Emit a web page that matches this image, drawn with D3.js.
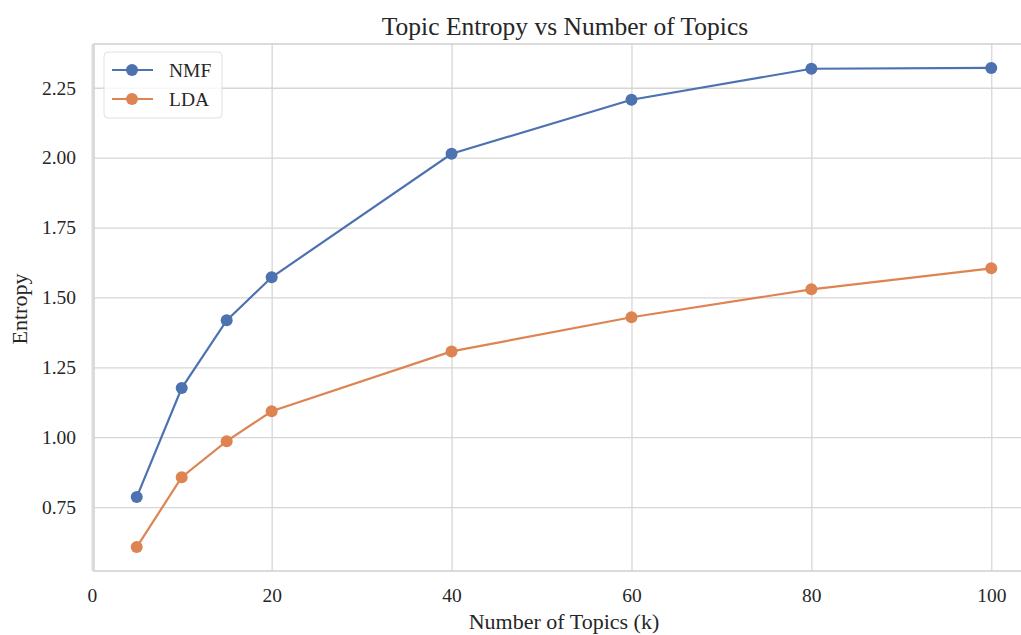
<!DOCTYPE html>
<html>
<head>
<meta charset="utf-8">
<script src="https://cdn.jsdelivr.net/npm/d3@7"></script>
<style>
  body { margin: 0; background: #fff; }
  svg text { font-family: "Liberation Serif", "DejaVu Serif", serif; fill: #262626; }
</style>
</head>
<body>
<svg id="chart" width="1021" height="635"></svg>
<script>
const topics = [5, 10, 15, 20, 40, 60, 80, 100];
const nmfEntropy = [0.786, 1.176, 1.418, 1.572, 2.014, 2.207, 2.318, 2.321];
const ldaEntropy = [0.607, 0.857, 0.986, 1.093, 1.307, 1.429, 1.529, 1.604];
const xTicks = [0, 20, 40, 60, 80, 100];
const yTicks = [0.75, 1.00, 1.25, 1.50, 1.75, 2.00, 2.25];

const series = [
  { name: 'NMF', values: nmfEntropy, color: '#4c72b0' },
  { name: 'LDA', values: ldaEntropy, color: '#dd8452' }
];

const serif = '"Liberation Serif", "DejaVu Serif", serif';
const svg = d3.select('#chart');
const m = { left: 94, right: 1034, top: 44, bottom: 571 };

const x = d3.scaleLinear().domain([0.25, 104.75]).range([m.left, m.right]);
const y = d3.scaleLinear().domain([0.5215, 2.4065]).range([m.bottom, m.top]);

svg.append('clipPath').attr('id', 'plot')
  .append('rect')
  .attr('x', m.left).attr('y', m.top)
  .attr('width', m.right - m.left).attr('height', m.bottom - m.top);

// grid + tick labels
svg.append('g')
  .attr('transform', `translate(0,${m.bottom})`)
  .call(d3.axisBottom(x).tickValues(xTicks).tickSize(-(m.bottom - m.top)).tickFormat(d => d).tickPadding(17))
  .attr('font-family', serif)
  .call(g => g.select('.domain').remove())
  .call(g => g.selectAll('line').attr('stroke', '#d6d6d6').attr('stroke-width', 1.3))
  .call(g => g.selectAll('text').attr('font-size', 19.5).attr('font-family', serif));

svg.append('g')
  .attr('transform', `translate(${m.left},0)`)
  .call(d3.axisLeft(y).tickValues(yTicks).tickSize(-(m.right - m.left)).tickFormat(d3.format('.2f')).tickPadding(18))
  .attr('font-family', serif)
  .call(g => g.select('.domain').remove())
  .call(g => g.selectAll('line').attr('stroke', '#d6d6d6').attr('stroke-width', 1.3))
  .call(g => g.selectAll('text').attr('font-size', 19.5).attr('font-family', serif));

// spines
svg.append('rect')
  .attr('x', m.left).attr('y', m.top)
  .attr('width', m.right - m.left).attr('height', m.bottom - m.top)
  .attr('fill', 'none').attr('stroke', '#cfcfcf').attr('stroke-width', 1.5);

const line = d3.line()
  .x((d, i) => x(topics[i]))
  .y(d => y(d));

const plot = svg.append('g').attr('clip-path', 'url(#plot)');

series.forEach(s => {
  plot.append('path')
    .datum(s.values)
    .attr('d', line)
    .attr('fill', 'none')
    .attr('stroke', s.color)
    .attr('stroke-width', 2.2);

  plot.selectAll(null)
    .data(s.values)
    .enter()
    .append('circle')
    .attr('cx', (d, i) => x(topics[i]))
    .attr('cy', d => y(d))
    .attr('r', 6)
    .attr('fill', s.color);
});

// legend
const leg = svg.append('g');
leg.append('rect')
  .attr('x', 104).attr('y', 52).attr('width', 118).attr('height', 66).attr('rx', 4)
  .attr('fill', '#fff').attr('fill-opacity', 0.8).attr('stroke', '#e0e0e0');

series.forEach((s, i) => {
  const ly = 70 + i * 29;
  leg.append('line')
    .attr('x1', 112).attr('x2', 153).attr('y1', ly).attr('y2', ly)
    .attr('stroke', s.color).attr('stroke-width', 2.2);
  leg.append('circle')
    .attr('cx', 132).attr('cy', ly).attr('r', 6).attr('fill', s.color);
  leg.append('text')
    .attr('x', 169).attr('y', ly + 7)
    .attr('font-size', 19.5)
    .text(s.name);
});

// titles
svg.append('text')
  .attr('x', 565).attr('y', 35)
  .attr('text-anchor', 'middle')
  .attr('font-size', 25.5)
  .text('Topic Entropy vs Number of Topics');

svg.append('text')
  .attr('x', 564).attr('y', 629)
  .attr('text-anchor', 'middle')
  .attr('font-size', 22)
  .text('Number of Topics (k)');

svg.append('text')
  .attr('transform', 'translate(27,309) rotate(-90)')
  .attr('text-anchor', 'middle')
  .attr('font-size', 22)
  .text('Entropy');
</script>
</body>
</html>
